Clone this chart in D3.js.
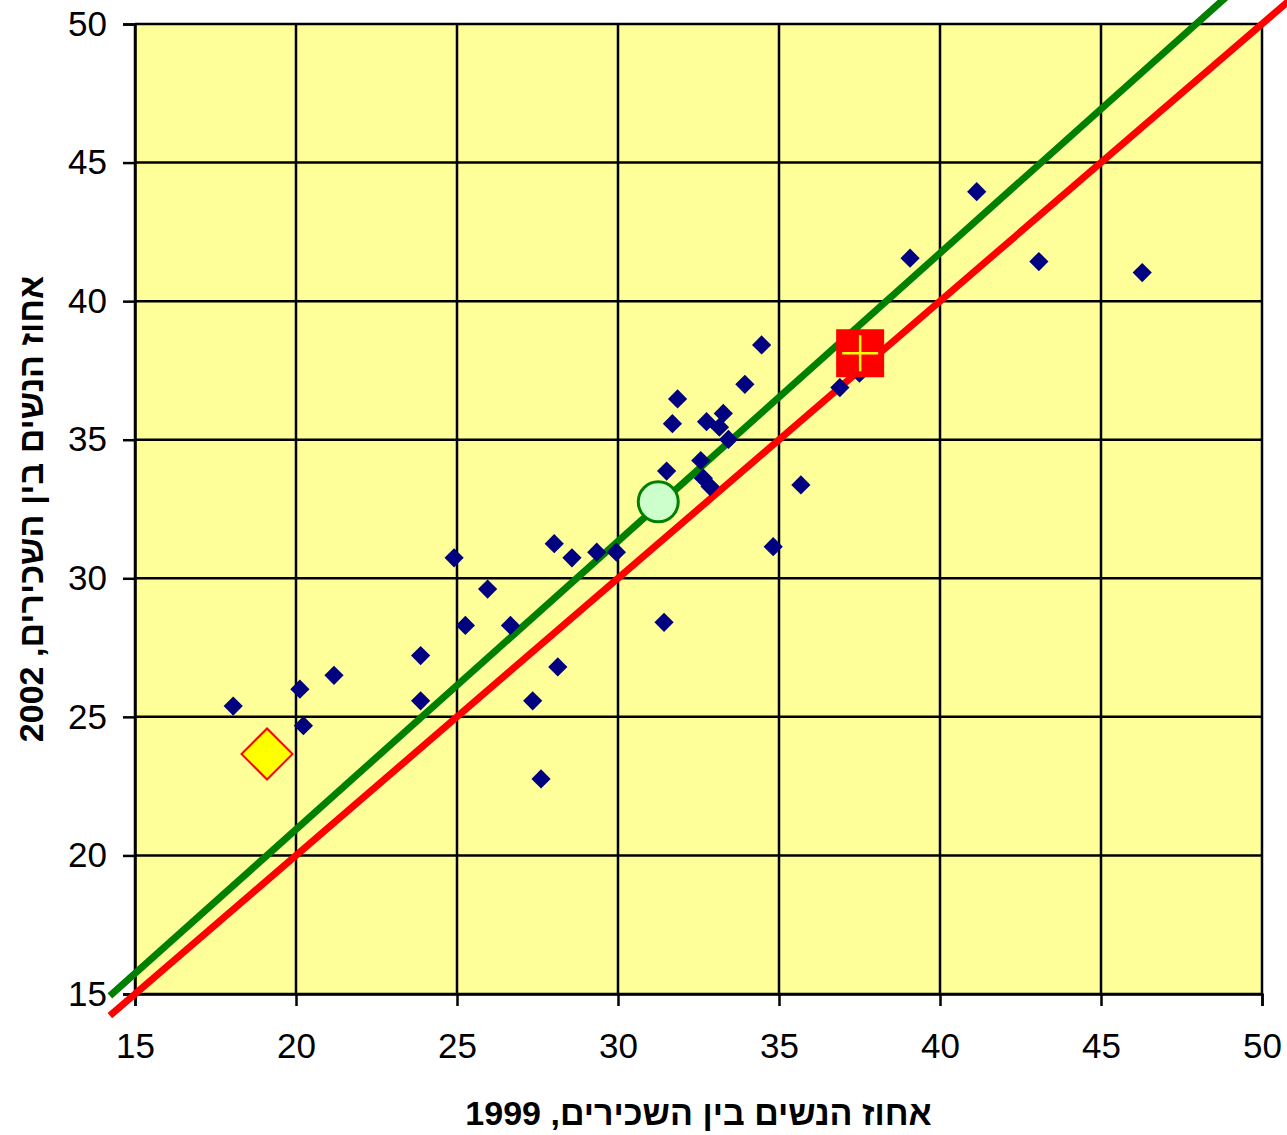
<!DOCTYPE html>
<html>
<head>
<meta charset="utf-8">
<script src="https://cdn.jsdelivr.net/npm/d3@7"></script>
<style>
  body { margin: 0; background: #fff; }
  svg text { font-family: "Liberation Sans", Arial, sans-serif; fill: #000; }
</style>
</head>
<body>
<svg id="chart"></svg>
<script>
// percent of women among employees, 1999 vs 2002
const x1999 = [18.05, 20.12, 20.23, 21.18, 23.87, 23.87, 24.91, 25.26, 25.95, 26.66,
               27.35, 27.61, 28.02, 28.13, 28.57, 29.34, 29.95, 31.43, 31.51, 31.69,
               31.85, 32.57, 32.65, 32.86, 32.75, 33.27, 33.15, 33.43, 33.94, 34.46,
               34.82, 35.68, 36.89, 37.50, 39.07, 41.14, 43.07, 46.28];
const y2002 = [25.39, 26.00, 24.68, 26.50, 27.21, 25.58, 30.74, 28.30, 29.61, 28.30,
               25.58, 22.76, 31.25, 26.80, 30.74, 30.94, 30.94, 28.41, 33.87, 35.58,
               36.47, 34.25, 33.61, 33.31, 35.65, 35.95, 35.45, 35.01, 37.00, 38.42,
               31.14, 33.37, 36.88, 37.40, 41.55, 43.95, 41.43, 41.03];

const lowPoint = [19.10, 23.66];     // yellow diamond
const avgPoint = [31.25, 32.76];     // green circle
const highPoint = [37.52, 38.12];    // red square

const equalLine = [[14.22, 14.22], [51, 51]];     // y = x
const trendLine = [[14.22, 14.93], [50, 52.13]];

const ticks = [15, 20, 25, 30, 35, 40, 45, 50];
const xTitle = "אחוז הנשים בין השכירים, 1999";
const yTitle = "אחוז הנשים בין השכירים, 2002";

const width = 1287, height = 1135;
const margin = {left: 135, right: 25, top: 24, bottom: 141};

const svg = d3.select("#chart")
    .attr("width", width)
    .attr("height", height);

const x = d3.scaleLinear().domain([15, 50]).range([margin.left, width - margin.right]);
const y = d3.scaleLinear().domain([15, 50]).range([height - margin.bottom, margin.top]);

// plot background
svg.append("rect")
    .attr("x", x(15)).attr("y", y(50))
    .attr("width", x(50) - x(15)).attr("height", y(15) - y(50))
    .attr("fill", "#ffff99");

// grid
svg.append("g")
    .selectAll("line")
    .data(ticks)
    .join("line")
    .attr("x1", d => x(d)).attr("x2", d => x(d))
    .attr("y1", y(15)).attr("y2", y(50))
    .attr("stroke", "#000").attr("stroke-width", 2.5);
svg.append("g")
    .selectAll("line")
    .data(ticks)
    .join("line")
    .attr("y1", d => y(d)).attr("y2", d => y(d))
    .attr("x1", x(15)).attr("x2", x(50))
    .attr("stroke", "#000").attr("stroke-width", 2.5);

// axes
const xAxis = svg.append("g")
    .attr("transform", `translate(0,${y(15)})`)
    .call(d3.axisBottom(x).tickValues(ticks).tickSize(12).tickPadding(20));
const yAxis = svg.append("g")
    .attr("transform", `translate(${x(15)},0)`)
    .call(d3.axisLeft(y).tickValues(ticks).tickSize(12).tickPadding(16));
[xAxis, yAxis].forEach(a => {
    a.selectAll(".domain").attr("stroke", "#000").attr("stroke-width", 2.5);
    a.selectAll(".tick line").attr("stroke", "#000").attr("stroke-width", 2.5);
    a.selectAll(".tick text")
        .style("font-size", "35px")
        .style("font-family", "'Liberation Sans', Arial, sans-serif");
});
xAxis.selectAll(".tick text").attr("dy", "0.9em");

// reference lines
const line = d3.line().x(d => x(d[0])).y(d => y(d[1]));
svg.append("path")
    .attr("d", line(trendLine))
    .attr("fill", "none").attr("stroke", "#008000").attr("stroke-width", 7);
svg.append("path")
    .attr("d", line(equalLine))
    .attr("fill", "none").attr("stroke", "#ff0000").attr("stroke-width", 7);

// points
const points = x1999.map((v, i) => [v, y2002[i]]);
const diamond = d3.symbol().type(d3.symbolSquare).size(185);
svg.append("g")
    .selectAll("path")
    .data(points)
    .join("path")
    .attr("d", diamond)
    .attr("transform", d => `translate(${x(d[0])},${y(d[1])}) rotate(45)`)
    .attr("fill", "#000080");

// highlighted markers
svg.append("path")
    .attr("d", d3.symbol().type(d3.symbolSquare).size(1300)())
    .attr("transform", `translate(${x(lowPoint[0])},${y(lowPoint[1])}) rotate(45)`)
    .attr("fill", "#ffff00").attr("stroke", "#ff0000").attr("stroke-width", 2);

svg.append("circle")
    .attr("cx", x(avgPoint[0])).attr("cy", y(avgPoint[1]))
    .attr("r", 20)
    .attr("fill", "#ccffcc").attr("stroke", "#008000").attr("stroke-width", 3);

const hp = svg.append("g")
    .attr("transform", `translate(${x(highPoint[0])},${y(highPoint[1])})`);
hp.append("rect")
    .attr("x", -24).attr("y", -24).attr("width", 48).attr("height", 48)
    .attr("fill", "#ff0000");
hp.append("path")
    .attr("d", "M-18,0H18M0,-18V18")
    .attr("stroke", "#ffff00").attr("stroke-width", 2.5);

// axis titles
svg.append("text")
    .attr("x", (x(15) + x(50)) / 2)
    .attr("y", 1125)
    .attr("text-anchor", "middle")
    .style("font-size", "34px")
    .style("font-weight", "bold")
    .text(xTitle);
svg.append("text")
    .attr("transform", `translate(43,${(y(15) + y(50)) / 2}) rotate(-90)`)
    .attr("text-anchor", "middle")
    .style("font-size", "34px")
    .style("font-weight", "bold")
    .text(yTitle);
</script>
</body>
</html>
